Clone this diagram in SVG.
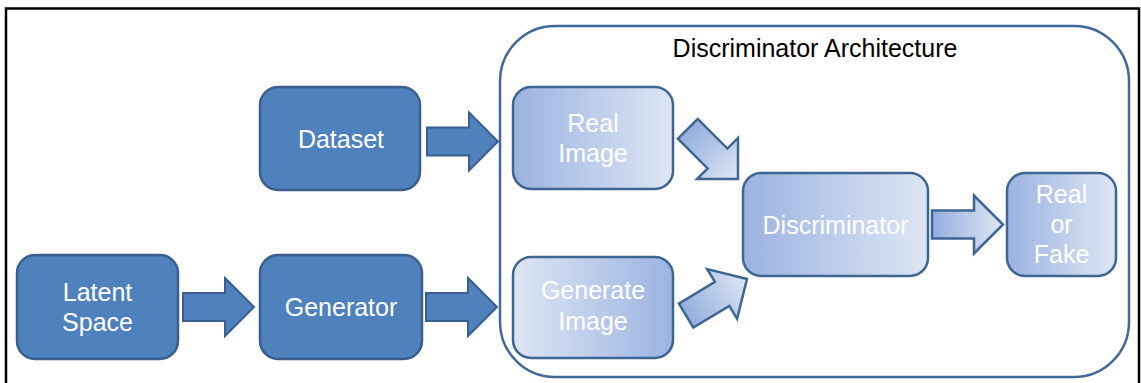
<svg xmlns="http://www.w3.org/2000/svg" width="1141" height="383" viewBox="0 0 1141 383">
  <style>
    .solid { fill: #4F81BD; stroke: #3A5F8E; stroke-width: 2.5; }
    .soft { stroke: #3F6592; stroke-width: 2.5; }
    .arrow-solid { fill: #4F81BD; stroke: #3A5F8E; stroke-width: 2; stroke-linejoin: miter; }
    .arrow-soft { fill: url(#arrowFade); stroke: #3F6592; stroke-width: 2.5; stroke-linejoin: miter; }
    .label { font-family: "Liberation Sans", Arial, sans-serif; font-size: 25px; fill: #FFFFFF; text-anchor: middle; }
    .title { font-family: "Liberation Sans", Arial, sans-serif; font-size: 25px; fill: #000000; text-anchor: middle; }
  </style>
  <defs>
    <linearGradient id="fadeRight" x1="0" y1="0" x2="1" y2="0">
      <stop offset="0" stop-color="#9BB3E1"/>
      <stop offset="1" stop-color="#DEE6F4"/>
    </linearGradient>
    <linearGradient id="fadeLeft" x1="0" y1="0" x2="1" y2="0">
      <stop offset="0" stop-color="#DEE6F4"/>
      <stop offset="1" stop-color="#9BB3E1"/>
    </linearGradient>
    <linearGradient id="arrowFade" x1="0" y1="0" x2="1" y2="0">
      <stop offset="0" stop-color="#93AEDE"/>
      <stop offset="1" stop-color="#DEE6F4"/>
    </linearGradient>
    <!-- block arrow, tip at origin, pointing along +x -->
    <path id="blockArrow" d="M-71,-14 H-29 V-29 L0,0 L-29,29 V14 H-71 Z"/>
  </defs>

  <rect width="1141" height="383" fill="#FFFFFF"/>
  <!-- page frame -->
  <rect x="6" y="8.5" width="1133" height="420" fill="none" stroke="#000000" stroke-width="2.5"/>

  <!-- discriminator container -->
  <g id="discriminator-architecture">
    <rect x="500" y="26" width="629" height="351" rx="55" ry="55" fill="#FFFFFF" stroke="#41689A" stroke-width="2.5"/>
    <text class="title" x="815" y="57">Discriminator Architecture</text>
  </g>

  <g id="dataset">
    <rect class="solid" x="260" y="87" width="160" height="103" rx="18" ry="18"/>
    <text class="label" x="341" y="148">Dataset</text>
  </g>

  <g id="latent-space">
    <rect class="solid" x="17" y="255" width="161" height="104" rx="18" ry="18"/>
    <text class="label" x="97.5" y="301">Latent</text>
    <text class="label" x="97.5" y="331">Space</text>
  </g>

  <g id="generator">
    <rect class="solid" x="260" y="255" width="162" height="104" rx="18" ry="18"/>
    <text class="label" x="341" y="316">Generator</text>
  </g>

  <g id="real-image">
    <rect class="soft" x="513" y="87" width="160" height="102" rx="18" ry="18" fill="url(#fadeRight)"/>
    <text class="label" x="593" y="132">Real</text>
    <text class="label" x="593" y="162">Image</text>
  </g>

  <g id="generate-image">
    <rect class="soft" x="513" y="257" width="160" height="101" rx="18" ry="18" fill="url(#fadeLeft)"/>
    <text class="label" x="593" y="299">Generate</text>
    <text class="label" x="593" y="330">Image</text>
  </g>

  <g id="discriminator">
    <rect class="soft" x="743" y="173" width="185" height="103" rx="18" ry="18" fill="url(#fadeRight)"/>
    <text class="label" x="835.5" y="234">Discriminator</text>
  </g>

  <g id="real-or-fake">
    <rect class="soft" x="1007" y="173" width="109" height="103" rx="18" ry="18" fill="url(#fadeRight)"/>
    <text class="label" x="1061.5" y="203">Real</text>
    <text class="label" x="1061.5" y="233">or</text>
    <text class="label" x="1061.5" y="263">Fake</text>
  </g>

  <!-- connectors -->
  <g id="connectors">
    <use href="#blockArrow" class="arrow-solid" transform="translate(498,141.5)"/>
    <use href="#blockArrow" class="arrow-solid" transform="translate(254,307)"/>
    <use href="#blockArrow" class="arrow-solid" transform="translate(497,307)"/>
    <use href="#blockArrow" class="arrow-soft" transform="translate(738,179) rotate(45)"/>
    <use href="#blockArrow" class="arrow-soft" transform="translate(747,279) rotate(-31)"/>
    <use href="#blockArrow" class="arrow-soft" transform="translate(1003,224.5)"/>
  </g>
</svg>
